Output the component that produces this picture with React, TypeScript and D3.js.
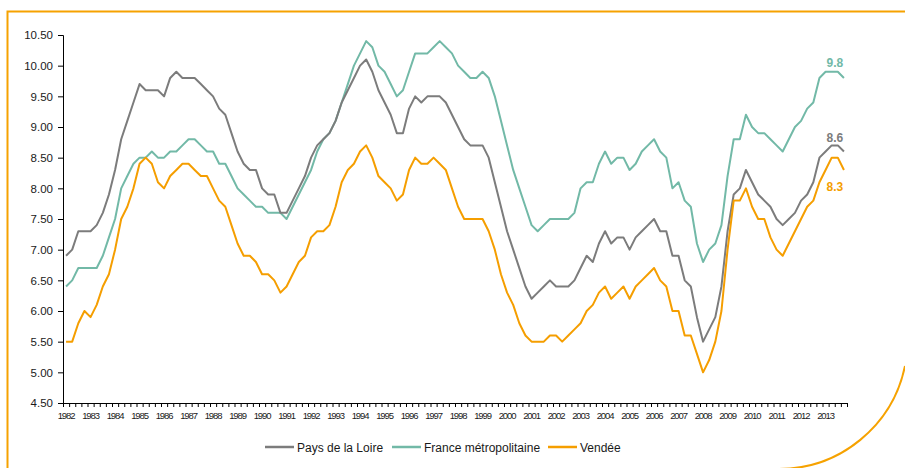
import * as d3 from 'd3';
import { useEffect, useRef } from 'react';

// quarterly values, 1982 Q1 .. 2013 Q4
const years = d3.range(1982, 2014).map(String);
const quarters = d3.range(years.length * 4);

const paysDeLaLoire = [
    6.9, 7.0, 7.3, 7.3, 7.3, 7.4, 7.6, 7.9, 8.3, 8.8,
    9.1, 9.4, 9.7, 9.6, 9.6, 9.6, 9.5, 9.8, 9.9, 9.8,
    9.8, 9.8, 9.7, 9.6, 9.5, 9.3, 9.2, 8.9, 8.6, 8.4,
    8.3, 8.3, 8.0, 7.9, 7.9, 7.6, 7.6, 7.8, 8.0, 8.2,
    8.5, 8.7, 8.8, 8.9, 9.1, 9.4, 9.6, 9.8, 10.0, 10.1,
    9.9, 9.6, 9.4, 9.2, 8.9, 8.9, 9.3, 9.5, 9.4, 9.5,
    9.5, 9.5, 9.4, 9.2, 9.0, 8.8, 8.7, 8.7, 8.7, 8.5,
    8.1, 7.7, 7.3, 7.0, 6.7, 6.4, 6.2, 6.3, 6.4, 6.5,
    6.4, 6.4, 6.4, 6.5, 6.7, 6.9, 6.8, 7.1, 7.3, 7.1,
    7.2, 7.2, 7.0, 7.2, 7.3, 7.4, 7.5, 7.3, 7.3, 6.9,
    6.9, 6.5, 6.4, 5.9, 5.5, 5.7, 5.9, 6.4, 7.3, 7.9,
    8.0, 8.3, 8.1, 7.9, 7.8, 7.7, 7.5, 7.4, 7.5, 7.6,
    7.8, 7.9, 8.1, 8.5, 8.6, 8.7, 8.7, 8.6,
];

const franceMetro = [
    6.4, 6.5, 6.7, 6.7, 6.7, 6.7, 6.9, 7.2, 7.5, 8.0,
    8.2, 8.4, 8.5, 8.5, 8.6, 8.5, 8.5, 8.6, 8.6, 8.7,
    8.8, 8.8, 8.7, 8.6, 8.6, 8.4, 8.4, 8.2, 8.0, 7.9,
    7.8, 7.7, 7.7, 7.6, 7.6, 7.6, 7.5, 7.7, 7.9, 8.1,
    8.3, 8.6, 8.8, 8.9, 9.1, 9.4, 9.7, 10.0, 10.2, 10.4,
    10.3, 10.0, 9.9, 9.7, 9.5, 9.6, 9.9, 10.2, 10.2, 10.2,
    10.3, 10.4, 10.3, 10.2, 10.0, 9.9, 9.8, 9.8, 9.9, 9.8,
    9.5, 9.1, 8.7, 8.3, 8.0, 7.7, 7.4, 7.3, 7.4, 7.5,
    7.5, 7.5, 7.5, 7.6, 8.0, 8.1, 8.1, 8.4, 8.6, 8.4,
    8.5, 8.5, 8.3, 8.4, 8.6, 8.7, 8.8, 8.6, 8.5, 8.0,
    8.1, 7.8, 7.7, 7.1, 6.8, 7.0, 7.1, 7.4, 8.2, 8.8,
    8.8, 9.2, 9.0, 8.9, 8.9, 8.8, 8.7, 8.6, 8.8, 9.0,
    9.1, 9.3, 9.4, 9.8, 9.9, 9.9, 9.9, 9.8,
];

const vendee = [
    5.5, 5.5, 5.8, 6.0, 5.9, 6.1, 6.4, 6.6, 7.0, 7.5,
    7.7, 8.0, 8.4, 8.5, 8.4, 8.1, 8.0, 8.2, 8.3, 8.4,
    8.4, 8.3, 8.2, 8.2, 8.0, 7.8, 7.7, 7.4, 7.1, 6.9,
    6.9, 6.8, 6.6, 6.6, 6.5, 6.3, 6.4, 6.6, 6.8, 6.9,
    7.2, 7.3, 7.3, 7.4, 7.7, 8.1, 8.3, 8.4, 8.6, 8.7,
    8.5, 8.2, 8.1, 8.0, 7.8, 7.9, 8.3, 8.5, 8.4, 8.4,
    8.5, 8.4, 8.3, 8.0, 7.7, 7.5, 7.5, 7.5, 7.5, 7.3,
    7.0, 6.6, 6.3, 6.1, 5.8, 5.6, 5.5, 5.5, 5.5, 5.6,
    5.6, 5.5, 5.6, 5.7, 5.8, 6.0, 6.1, 6.3, 6.4, 6.2,
    6.3, 6.4, 6.2, 6.4, 6.5, 6.6, 6.7, 6.5, 6.4, 6.0,
    6.0, 5.6, 5.6, 5.3, 5.0, 5.2, 5.5, 6.0, 7.0, 7.8,
    7.8, 8.0, 7.7, 7.5, 7.5, 7.2, 7.0, 6.9, 7.1, 7.3,
    7.5, 7.7, 7.8, 8.1, 8.3, 8.5, 8.5, 8.3,
];

const yTicks = [4.5, 5, 5.5, 6, 6.5, 7, 7.5, 8, 8.5, 9, 9.5, 10, 10.5];

const series = [
    { name: 'Pays de la Loire', values: paysDeLaLoire, color: '#7c7c7c', labelDy: -10 },
    { name: 'France métropolitaine', values: franceMetro, color: '#72b9a7', labelDy: -11 },
    { name: 'Vendée', values: vendee, color: '#f59e00', labelDy: 21 },
];

const FONT = 'Arial, "Liberation Sans", sans-serif';
const ORANGE = '#f6a200';

export default function App() {
    const ref = useRef<SVGSVGElement | null>(null);

    useEffect(() => {
        const svg = d3.select(ref.current);
        svg.selectAll('*').remove();

        const width = 905;
        const height = 468;
        const margin = { top: 35, right: 58, bottom: 65, left: 63 };

        const x = d3.scaleLinear()
            .domain([0, quarters.length])
            .range([margin.left, width - margin.right]);

        const y = d3.scaleLinear()
            .domain([4.5, 10.5])
            .range([height - margin.bottom, margin.top]);

        svg.attr('width', width).attr('height', height);

        // decorative frame
        svg.append('path')
            .attr('d', 'M905,11.5 L7.5,11.5 L7.5,468')
            .attr('fill', 'none')
            .attr('stroke', ORANGE)
            .attr('stroke-width', 2);
        svg.append('path')
            .attr('d', 'M905,366 A129,129 0 0 1 779,469')
            .attr('fill', 'none')
            .attr('stroke', ORANGE)
            .attr('stroke-width', 2);

        // y axis
        const yAxis = svg.append('g')
            .attr('transform', `translate(${margin.left},0)`)
            .call(d3.axisLeft(y).tickValues(yTicks).tickFormat(d3.format('.2f')).tickSize(5).tickPadding(5));
        yAxis.selectAll('text')
            .attr('font-family', FONT)
            .attr('font-size', 11.5)
            .attr('fill', '#1a1a1a');

        // x axis: a tick per quarter, a label per year
        const xAxis = svg.append('g')
            .attr('transform', `translate(0,${height - margin.bottom})`)
            .call(d3.axisBottom(x).tickValues(d3.range(quarters.length + 1)).tickFormat(() => '').tickSize(4).tickSizeOuter(0));
        xAxis.select('.domain').attr('stroke-width', 1);
        yAxis.select('.domain').attr('stroke-width', 1);
        svg.selectAll('.tick line').attr('stroke-width', 1);

        svg.append('g')
            .selectAll('text')
            .data(years)
            .join('text')
            .attr('x', (_, k) => x(k * 4 + 0.5))
            .attr('y', height - margin.bottom + 15.5)
            .attr('text-anchor', 'middle')
            .attr('font-family', FONT)
            .attr('font-size', 9.5)
            .attr('letter-spacing', -1.1)
            .attr('fill', '#1a1a1a')
            .text(d => d);

        const line = d3.line<number>()
            .x((_, i) => x(i + 0.5))
            .y(d => y(d));

        // draw France first so the gray line sits on top as in the original
        [series[1], series[0], series[2]].forEach(s => {
            svg.append('path')
                .datum(s.values)
                .attr('fill', 'none')
                .attr('stroke', s.color)
                .attr('stroke-width', 2)
                .attr('stroke-linejoin', 'round')
                .attr('d', line);
        });

        // end labels
        series.forEach(s => {
            const last = s.values[s.values.length - 1];
            svg.append('text')
                .attr('x', x(quarters.length - 0.5) - 9)
                .attr('y', y(last) + s.labelDy)
                .attr('text-anchor', 'middle')
                .attr('font-family', FONT)
                .attr('font-size', 12)
                .attr('font-weight', 'bold')
                .attr('fill', s.color)
                .text(d3.format('.1f')(last));
        });

        // legend
        const legendItems = [
            { s: series[0], x0: 265 },
            { s: series[1], x0: 392 },
            { s: series[2], x0: 548 },
        ];
        const ly = 447;
        legendItems.forEach(({ s, x0 }) => {
            svg.append('line')
                .attr('x1', x0).attr('x2', x0 + 29)
                .attr('y1', ly).attr('y2', ly)
                .attr('stroke', s.color)
                .attr('stroke-width', 2.5);
            svg.append('text')
                .attr('x', x0 + 32)
                .attr('y', ly + 4.5)
                .attr('font-family', FONT)
                .attr('font-size', 12)
                .attr('fill', '#1a1a1a')
                .text(s.name);
        });
    }, []);

    return <svg ref={ref} style={{ position: 'absolute', left: 0, top: 0, display: 'block' }}></svg>;
}
